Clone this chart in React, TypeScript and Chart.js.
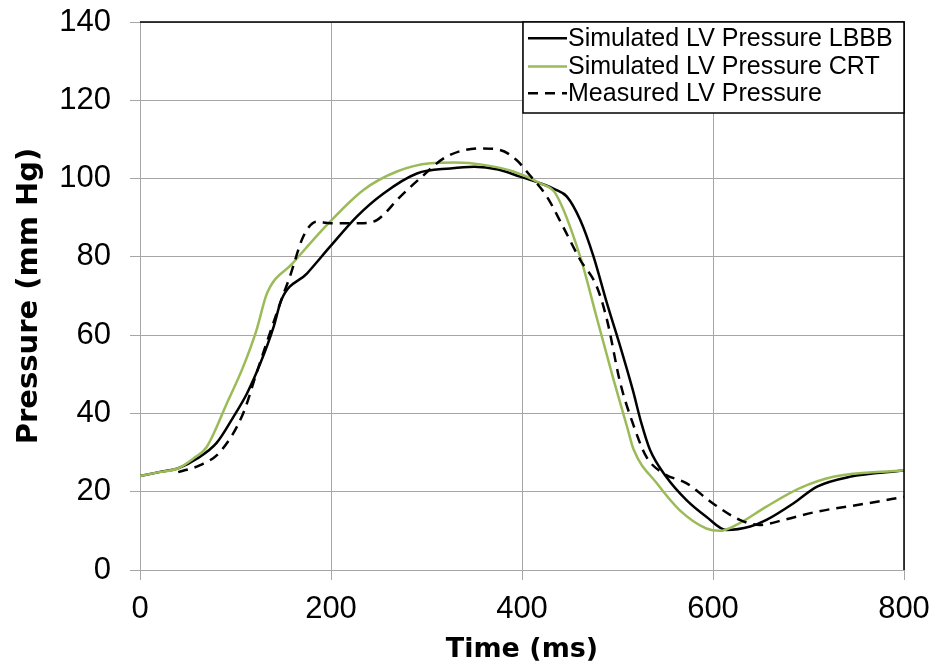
import React, { useEffect, useRef } from "react";
import { Chart, registerables } from "chart.js";

Chart.register(...registerables);

const seriesNames = [
  "Simulated LV Pressure LBBB",
  "Simulated LV Pressure CRT",
  "Measured LV Pressure",
];

const lbbbTime = [0, 20, 40, 60, 80, 98, 112, 126, 140, 148, 175, 199, 227, 255, 290, 325, 350, 375, 398, 419, 435, 447, 461, 475, 489, 503, 516, 525, 534, 551, 572, 593, 614, 639, 656, 684, 709, 743, 800];
const lbbbValue = [24, 25, 26, 28.5, 32.4, 39.2, 45.1, 52.8, 62.2, 69.0, 75.8, 82.6, 90.3, 96.2, 101.3, 102.6, 103.0, 102.3, 100.5, 98.8, 97.2, 95.4, 89.4, 80.0, 68.1, 57.0, 46.0, 37.5, 30.7, 23.8, 17.9, 13.6, 10.2, 11.1, 12.8, 17.0, 21.3, 23.8, 25.4];

const crtTime = [0, 20, 40, 56, 70, 91, 108, 122, 133, 160, 199, 234, 269, 304, 330, 360, 391, 419, 435, 461, 478, 496, 510, 517, 541, 565, 593, 607, 625, 656, 691, 726, 800];
const crtValue = [24, 25, 26, 28.5, 31.5, 42.6, 51.9, 61.3, 70.7, 78.4, 89.0, 97.1, 101.8, 103.9, 104.1, 103.5, 101.8, 98.8, 96.2, 80.0, 64.7, 48.5, 36.6, 30.7, 22.2, 15.3, 10.6, 10.0, 11.6, 16.2, 20.9, 23.8, 25.5];

const measuredTime = [40, 63, 84, 108, 122, 136, 148, 157, 171, 185, 199, 234, 248, 258, 269, 293, 321, 356, 377, 394, 408, 426, 443, 461, 478, 489, 503, 516, 530, 548, 572, 600, 628, 649, 674, 709, 761, 800];
const measuredValue = [25, 26.8, 30.2, 40, 50.3, 60.5, 69, 75, 85.2, 89, 88.6, 88.6, 89.4, 91.5, 94.5, 100, 105.6, 107.7, 107.3, 104.8, 100.9, 95.4, 87.7, 79.2, 72.6, 63.9, 47.7, 37.5, 29, 24.7, 22.2, 17, 12.8, 11.5, 12.8, 14.9, 17, 18.7];

const xTicks = [0, 200, 400, 600, 800];
const yTicks = [0, 20, 40, 60, 80, 100, 120, 140];

const colors = ["#000000", "#9BBB59", "#000000"];
const dashes: number[][] = [[], [], [10, 7]];

const toPoints = (t: number[], v: number[]) => t.map((x, i) => ({ x, y: v[i] }));

const gridColor = "#a6a6a6";

const frameLegendPlugin = {
  id: "frameLegend",
  afterDraw(chart: any) {
    const { ctx, chartArea } = chart;
    const { left, right, top, bottom } = chartArea;
    ctx.save();
    ctx.strokeStyle = "#000";
    ctx.lineWidth = 1.5;
    ctx.beginPath();
    ctx.moveTo(left, top);
    ctx.lineTo(right, top);
    ctx.lineTo(right, bottom);
    ctx.stroke();
    const bx = 523;
    const by = top;
    const bw = right - bx;
    const bh = 91;
    ctx.fillStyle = "#fff";
    ctx.fillRect(bx, by, bw, bh);
    ctx.strokeStyle = "#000";
    ctx.lineWidth = 1.5;
    ctx.strokeRect(bx, by, bw, bh);
    const rows = [38.3, 66.5, 93.3];
    ctx.font = "25px 'Liberation Sans', Arial, sans-serif";
    ctx.textBaseline = "middle";
    ctx.textAlign = "left";
    seriesNames.forEach((name, i) => {
      const y = rows[i];
      ctx.strokeStyle = colors[i];
      ctx.lineWidth = 2.5;
      ctx.setLineDash(dashes[i]);
      ctx.beginPath();
      ctx.moveTo(528, y);
      ctx.lineTo(567, y);
      ctx.stroke();
      ctx.setLineDash([]);
      ctx.fillStyle = "#000";
      ctx.fillText(name, 568, y + 1);
    });
    ctx.restore();
  },
};

const zeroPad = (scale: any) => {
  scale.paddingTop = 0;
  scale.paddingBottom = 0;
  scale.paddingLeft = 0;
  scale.paddingRight = 0;
};

export default function App() {
  const canvasRef = useRef<HTMLCanvasElement | null>(null);

  useEffect(() => {
    if (!canvasRef.current) return;
    const series = [
      toPoints(lbbbTime, lbbbValue),
      toPoints(crtTime, crtValue),
      toPoints(measuredTime, measuredValue),
    ];
    const chart = new Chart(canvasRef.current, {
      type: "line",
      data: {
        datasets: seriesNames.map((label, i) => ({
          label,
          data: series[i],
          borderColor: colors[i],
          backgroundColor: colors[i],
          borderWidth: 2.5,
          borderDash: dashes[i],
          pointRadius: 0,
          cubicInterpolationMode: "monotone" as const,
          fill: false,
          order: 3 - i,
        })),
      },
      options: {
        responsive: false,
        animation: false,
        layout: { padding: { top: 22, right: 31, left: 0, bottom: 0 } },
        plugins: {
          legend: { display: false },
          tooltip: { enabled: false },
        },
        scales: {
          x: {
            type: "linear",
            min: 0,
            max: 800,
            afterBuildTicks: (scale: any) => {
              scale.ticks = xTicks.map((v) => ({ value: v }));
            },
            afterFit: (scale: any) => {
              scale.height = 101;
              zeroPad(scale);
            },
            ticks: {
              color: "#000",
              font: { family: "'Liberation Sans', Arial, sans-serif", size: 31 },
              padding: 11,
              maxRotation: 0,
            },
            grid: { color: gridColor, lineWidth: 1, tickLength: 10 },
            border: { color: gridColor, width: 1 },
            title: {
              display: true,
              text: "Time (ms)",
              color: "#000",
              font: { family: "'DejaVu Sans', sans-serif", size: 27, weight: "bold" },
              padding: { top: 0, bottom: 5 },
            },
          },
          y: {
            type: "linear",
            min: 0,
            max: 140,
            afterBuildTicks: (scale: any) => {
              scale.ticks = yTicks.map((v) => ({ value: v }));
            },
            afterFit: (scale: any) => {
              scale.width = 140;
              zeroPad(scale);
            },
            ticks: {
              color: "#000",
              font: { family: "'Liberation Sans', Arial, sans-serif", size: 31 },
              padding: 19,
            },
            grid: { color: gridColor, lineWidth: 1, tickLength: 10 },
            border: { color: gridColor, width: 1 },
            title: {
              display: true,
              text: "Pressure (mm Hg)",
              color: "#000",
              font: { family: "'DejaVu Sans', sans-serif", size: 29, weight: "bold" },
              padding: { top: 12, bottom: 0 },
            },
          },
        },
      },
      plugins: [frameLegendPlugin],
    });
    return () => chart.destroy();
  }, []);

  return (
    <div style={{ position: "absolute", left: 0, top: 0, width: 935, height: 671, background: "#fff" }}>
      <canvas ref={canvasRef} width={935} height={671} style={{ display: "block" }} />
    </div>
  );
}
